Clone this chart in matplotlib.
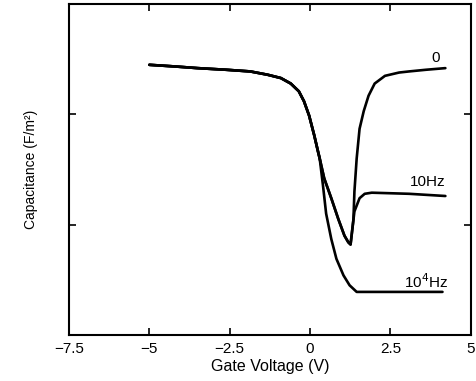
import matplotlib
matplotlib.use("Agg")
import matplotlib.pyplot as plt

plt.rcParams['font.family'] = ['Liberation Sans', 'DejaVu Sans']

# shared part of all three curves (accumulation region)
common_v = [-5.0, -4.2, -3.5, -2.6, -1.86, -1.32, -0.91, -0.60, -0.35, -0.19, -0.03, 0.13, 0.25, 0.30]
common_c = [2.45, 2.435, 2.42, 2.405, 2.39, 2.36, 2.33, 2.28, 2.21, 2.12, 1.99, 1.81, 1.66, 1.60]

# descent to the minimum shared by the "0" and 10Hz curves
dip_v = [0.44, 0.66, 0.88, 1.07, 1.19, 1.26]
dip_c = [1.42, 1.24, 1.05, 0.90, 0.84, 0.82]

# recovery of the "0" curve
rise0_v = [1.35, 1.38, 1.45, 1.54, 1.67, 1.82, 2.01, 2.33, 2.77, 3.08, 3.6, 4.21]
rise0_c = [1.05, 1.30, 1.60, 1.87, 2.03, 2.17, 2.28, 2.35, 2.38, 2.39, 2.405, 2.42]

# recovery of the 10Hz curve
rise10_v = [1.38, 1.54, 1.70, 1.92, 3.08, 4.21]
rise10_c = [1.12, 1.24, 1.28, 1.29, 1.28, 1.26]

# 10^4 Hz branch
hf_v = [0.40, 0.50, 0.66, 0.82, 1.04, 1.23, 1.45, 4.12]
hf_c = [1.36, 1.10, 0.87, 0.69, 0.54, 0.45, 0.39, 0.39]

xticks = [-7.5, -5, -2.5, 0, 2.5, 5]
xtick_labels = ['\u22127.5', '\u22125', '\u22122.5', '0', '2.5', '5']

fig = plt.figure(figsize=(4.76, 3.81), dpi=100)
ax = fig.add_axes([0.145, 0.121, 0.844, 0.868])

lw = 1.9
style = dict(color='black', lw=lw, solid_capstyle='round', solid_joinstyle='round')
ax.plot(common_v + dip_v + rise0_v, common_c + dip_c + rise0_c, **style)
ax.plot(common_v + dip_v + rise10_v, common_c + dip_c + rise10_c, **style)
ax.plot(common_v + hf_v, common_c + hf_c, **style)

ax.text(3.9, 2.51, '0', fontsize=11, ha='center', va='center')
ax.text(3.66, 1.39, '10Hz', fontsize=11, ha='center', va='center')
ax.text(3.6, 0.48, '10$^4$Hz', fontsize=11, ha='center', va='center')

ax.set_xlim(-7.5, 5)
ax.set_ylim(0, 3)
ax.set_xticks(xticks)
ax.set_xticklabels(xtick_labels, fontsize=11)
ax.set_yticks([1, 2])
ax.set_yticklabels([])
ax.tick_params(direction='in', top=True, right=True, length=5, width=1.2, pad=5)
for s in ax.spines.values():
    s.set_linewidth(1.5)

ax.set_xlabel('Gate Voltage (V)', fontsize=11.5, labelpad=2)
ax.set_ylabel('Capacitance (F/m\u00b2)', fontsize=10, labelpad=17)

fig.savefig('out.png', dpi=100)
